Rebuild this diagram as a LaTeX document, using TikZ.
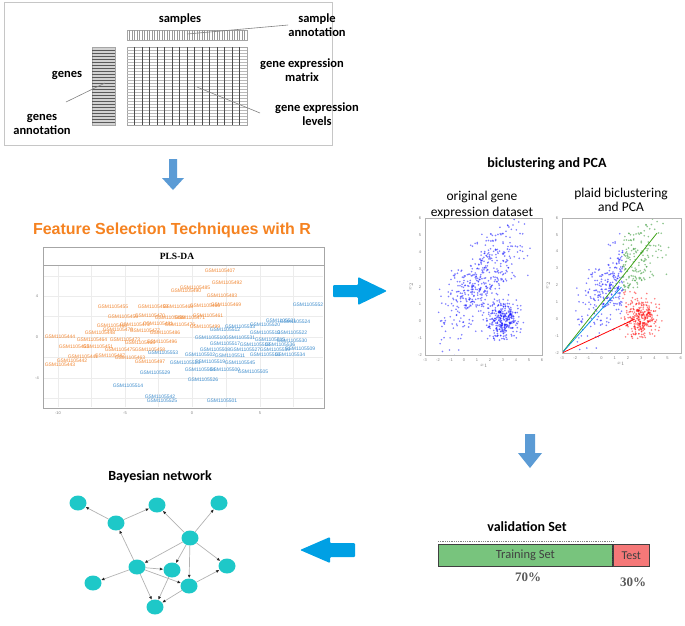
\documentclass[tikz,border=0pt]{standalone}
\usepackage{fontspec}
\setmainfont{Carlito}
\newfontfamily\arialfont{Liberation Sans}
\newfontfamily\timesfont{Liberation Serif}
\usetikzlibrary{positioning, arrows.meta, shapes.geometric}

\definecolor{arrowblue}{RGB}{91,155,213}
\definecolor{brightblue}{RGB}{0,160,228}
\definecolor{titleorange}{RGB}{245,130,32}
\definecolor{plsorange}{RGB}{242,135,50}
\definecolor{plsblue}{RGB}{60,140,205}
\definecolor{trainfill}{RGB}{120,196,125}
\definecolor{testfill}{RGB}{245,120,120}
\definecolor{bnnode}{RGB}{30,200,200}
\definecolor{ptgreen}{RGB}{30,140,30}

\begin{document}
\begin{tikzpicture}[x=1pt,y=-1pt]
	% Setup the styles for the texts and nodes
	\tikzset{lbl/.style={font=\fontsize{12.5}{14}\selectfont\bfseries,
			align=center, inner sep=0pt},
		head lbl/.style={font=\fontsize{14}{16}\selectfont\bfseries, inner sep=0pt},
		sub lbl/.style={font=\fontsize{13.5}{15.5}\selectfont, align=center, inner sep=0pt},
		pls lbl/.style={font=\arialfont\fontsize{5}{5.5}\selectfont, inner sep=0pt},
		tick lbl/.style={font=\arialfont\fontsize{4}{4.5}\selectfont, text=gray, inner sep=0pt},
		pct lbl/.style={font=\timesfont\fontsize{13}{14}\selectfont\bfseries, text=black!65, inner sep=0pt},
		bn node/.style={ellipse, fill=bnnode, minimum width=17pt, minimum height=15pt, inner sep=0pt},
		pointer/.style={gray, line width=0.6pt}}
	
	\useasboundingbox (0,0) rectangle (685,625);
	
	% gene expression data
	\draw[gray!45, line width=1pt] (4,2) rectangle (332,145);
	\draw[gray!70, fill=white] (127,30) rectangle (247,40);
	\foreach \i in {1,...,47}
		\draw[gray!80, line width=0.4pt] ({127+2.5*\i},30) -- ({127+2.5*\i},40);
	\draw[gray!70, fill=gray!35] (92,47) rectangle (115,125);
	\foreach \j in {1,...,25}
		\draw[gray!70!black, line width=0.35pt] (92,{47+3*\j}) -- (115,{47+3*\j});
	\draw[gray!70] (127,47) rectangle (247,125);
	\foreach \j in {1,...,25}
		\draw[gray!55, line width=0.3pt] (127,{47+3*\j}) -- (247,{47+3*\j});
	\foreach \i in {1,...,15}
		\draw[gray!60!black, line width=0.6pt] ({127+7.5*\i},47) -- ({127+7.5*\i},125);
	
	\node[lbl] (samples)    at (180,19)  {samples};
	\node[lbl] (sampann)    at (317,25)  {sample\\annotation};
	\node[lbl] (genematrix) at (302,70)  {gene expression\\matrix};
	\node[lbl] (genelevels) at (317,114) {gene expression\\levels};
	\node[lbl] (genes)      at (67,75)   {genes};
	\node[lbl] (genesann)   at (42,124)  {genes\\annotation};
	
	\coordinate (sampdot)  at (187,34);
	\coordinate (genetail) at (66,102);
	\coordinate (genedot)  at (105,83);
	\coordinate (levtail)  at (260,113);
	\coordinate (levdot)   at (197,87);
	\draw[pointer] (sampann.west) -- (sampdot);
	\draw[pointer] (genetail) -- (genedot);
	\draw[pointer] (levtail) -- (levdot);
	
	\fill[arrowblue] (169,159) -- (177,159) -- (177,178) -- (184,178) -- (173,190)
		-- (162,178) -- (169,178) -- cycle;
	
	% feature selection
	\node[font=\arialfont\fontsize{16}{18}\selectfont\bfseries, text=titleorange,
		inner sep=0pt] (fstitle) at (172,230) {Feature Selection Techniques with R};
	
	\draw[gray!70, line width=0.9pt, fill=white] (43,247) rectangle (324,408);
	\draw[gray!70, line width=0.9pt] (43,265) -- (324,265);
	\node[font=\timesfont\fontsize{9.5}{10}\selectfont\bfseries, inner sep=0pt]
		(plstitle) at (177,256) {PLS-DA};
	\foreach \gx in {58,91,125,158,192,226,260,293}
		\draw[gray!15, line width=0.5pt] (\gx,266) -- (\gx,407);
	\foreach \gy in {276,296,316,337,357,378,398}
		\draw[gray!15, line width=0.5pt] (44,\gy) -- (323,\gy);
	\foreach \gx/\t in {58/-10,125/-5,192/0,260/5}
		\node[tick lbl] (xt\gx) at (\gx,413) {\t};
	\foreach \gy/\t in {296/4,337/0,378/-4}
		\node[tick lbl] (yt\gy) at (37,\gy) {\t};
	
	\foreach \lx/\ly/\n in {220/271/407, 227/283/492, 195/288/485, 186/291/490,
		222/296/483, 113/307/455, 153/307/459, 178/307/468, 205/306/466, 226/305/469,
		123/317/456, 150/316/470, 170/318/488, 190/318/471, 208/316/461, 112/326/460,
		135/325/472, 158/324/481, 180/325/476, 145/331/477, 165/333/486, 100/333/448,
		60/337/444, 92/340/464, 125/340/473, 140/343/465, 162/342/496, 98/347/451,
		74/347/453, 120/350/475, 150/350/458, 83/357/441, 110/356/487, 130/358/463,
		72/361/442, 60/365/443, 150/362/497, 205/327/499, 118/330/479}
		\node[pls lbl, text=plsorange] (o\n) at (\lx,\ly) {GSM1105\n};
	
	\foreach \lx/\ly/\n in {308/305/552, 295/322/524, 265/325/520, 281/321/521,
		240/327/533, 225/330/512, 265/333/513, 292/333/522, 210/338/510, 240/338/531,
		270/340/515, 292/341/530, 225/344/517, 255/345/518, 280/345/536, 215/350/508,
		245/350/527, 275/350/539, 300/349/509, 200/355/502, 230/356/511, 265/355/516,
		290/355/534, 163/353/553, 185/363/523, 210/362/519, 240/363/545, 200/370/504,
		225/370/500, 253/372/505, 155/373/529, 203/380/526, 128/386/514, 160/397/542,
		162/401/525, 222/401/501}
		\node[pls lbl, text=plsblue] (b\n) at (\lx,\ly) {GSM1105\n};
	
	\fill[brightblue, rounded corners=1pt] (333,285) -- (358,285) -- (358,277) -- (387,291)
		-- (358,305) -- (358,297) -- (333,297) -- cycle;
	
	% biclustering and PCA
	\node[head lbl] (bictitle)   at (547,164) {biclustering and PCA};
	\node[sub lbl]  (origtitle)  at (482,205) {original gene\\expression dataset};
	\node[sub lbl, font=\fontsize{13.5}{14}\selectfont] (plaidtitle) at (621,200)
		{plaid biclustering\\and PCA};
	
	\begin{scope}
		\clip (425,218) rectangle (542,355);
		\pgfmathsetseed{7}
		\foreach \k in {1,...,450} {
			\pgfmathsetmacro\u{rand+rand+rand}
			\pgfmathsetmacro\v{rand+rand+rand}
			\pgfmathsetmacro\px{1.4+1.55*\u}
			\pgfmathsetmacro\py{2.3+1.05*\u+1.1*\v}
			\fill[blue, opacity=0.5] ({425+13*(\px+3)},{355-17.1*(\py+2)}) circle (0.9);
		}
		\foreach \k in {1,...,300} {
			\pgfmathsetmacro\px{3+0.6*(rand+rand+rand)}
			\pgfmathsetmacro\py{0.1+0.55*(rand+rand+rand)}
			\fill[blue, opacity=0.5] ({425+13*(\px+3)},{355-17.1*(\py+2)}) circle (0.9);
		}
	\end{scope}
	\begin{scope}
		\clip (562,218) rectangle (681,353);
		\pgfmathsetseed{7}
		\foreach \k in {1,...,450} {
			\pgfmathsetmacro\u{rand+rand+rand}
			\pgfmathsetmacro\v{rand+rand+rand}
			\pgfmathsetmacro\px{1.4+1.55*\u}
			\pgfmathsetmacro\py{2.3+1.05*\u+1.1*\v}
			\pgfmathtruncatemacro\cl{ifthenelse(\px>1.6,ifthenelse(\py>1.7,2,3),1)}
			\ifcase\cl\or\def\ptcol{blue}\or\def\ptcol{ptgreen}\or\def\ptcol{red}\fi
			\fill[\ptcol, opacity=0.5] ({562+13.2*(\px+3)},{353-16.9*(\py+2)}) circle (0.9);
		}
		\foreach \k in {1,...,300} {
			\pgfmathsetmacro\px{3+0.6*(rand+rand+rand)}
			\pgfmathsetmacro\py{0.1+0.55*(rand+rand+rand)}
			\fill[red, opacity=0.5] ({562+13.2*(\px+3)},{353-16.9*(\py+2)}) circle (0.9);
		}
		\coordinate (pcaorig) at (562,353);
		\coordinate (pcagreen) at ({562+13.2*7.2},{353-16.9*7.1});
		\coordinate (pcacyan)  at ({562+13.2*4.5},{353-16.9*3.9});
		\coordinate (pcared)   at ({562+13.2*5.5},{353-16.9*2.0});
		\draw[ptgreen!80!lime, line width=0.8pt] (pcaorig) -- (pcagreen);
		\draw[cyan!80!blue, line width=0.8pt] (pcaorig) -- (pcacyan);
		\draw[red, line width=0.8pt] (pcaorig) -- (pcared);
	\end{scope}
	\draw[gray!60, line width=0.6pt] (425,218) rectangle (542,355);
	\draw[gray!60, line width=0.6pt] (562,218) rectangle (681,353);
	\foreach \t in {-3,...,6} {
		\node[tick lbl] (lx\t) at ({425+13*(\t+3)},360) {\t};
		\node[tick lbl] (rx\t) at ({562+13.2*(\t+3)},358) {\t};
	}
	\foreach \t in {-2,...,6} {
		\node[tick lbl] (ly\t) at (420,{355-17.1*(\t+2)}) {\t};
		\node[tick lbl] (ry\t) at (557,{353-16.9*(\t+2)}) {\t};
	}
	\node[tick lbl] (lxname) at (484,366) {$x_1$};
	\node[tick lbl] (rxname) at (621,364) {$x_1$};
	\node[tick lbl, rotate=90] (lyname) at (411,287) {$x_2$};
	\node[tick lbl, rotate=90] (ryname) at (548,286) {$x_2$};
	
	\fill[arrowblue] (525,434) -- (535,434) -- (535,453) -- (542,453) -- (530,468)
		-- (518,453) -- (525,453) -- cycle;
	
	% validation set
	\node[head lbl] (valtitle) at (527,527) {validation Set};
	\node[draw=black!75, line width=0.8pt, fill=trainfill, minimum width=174pt,
		minimum height=22pt, inner sep=0pt, anchor=north west,
		font=\fontsize{12.5}{14}\selectfont, text=black!75] (train) at (438,544) {Training Set};
	\node[draw=black!75, line width=0.8pt, fill=testfill, minimum width=36pt,
		minimum height=22pt, inner sep=0pt, right=0pt of train,
		font=\fontsize{12}{14}\selectfont, text=black!75] (test) {Test};
	\draw[gray, densely dotted, line width=0.8pt] ([yshift=3pt]train.north west)
		-- ([yshift=3pt]train.north east);
	\draw[black!80, densely dotted, line width=0.8pt] (train.north east) -- (train.south east);
	\node[pct lbl] (pct70) at (528,577) {70\%};
	\node[pct lbl] (pct30) at (633,582) {30\%};
	
	\fill[brightblue, rounded corners=1pt] (300,550) -- (330,537) -- (330,543) -- (355,543)
		-- (355,557) -- (330,557) -- (330,563) -- cycle;
	
	% Bayesian network
	\node[head lbl] (bntitle) at (160,477) {Bayesian network};
	\node[bn node] (b1)  at (78,503)  {};
	\node[bn node] (b2)  at (116,523) {};
	\node[bn node] (b3)  at (157,505) {};
	\node[bn node] (b4)  at (219,503) {};
	\node[bn node] (b5)  at (190,538) {};
	\node[bn node] (b6)  at (137,567) {};
	\node[bn node] (b7)  at (172,570) {};
	\node[bn node] (b8)  at (227,566) {};
	\node[bn node] (b9)  at (93,583)  {};
	\node[bn node] (b10) at (189,586) {};
	\node[bn node] (b11) at (155,607) {};
	
	\draw[>={Latex[length=3.5pt, width=3pt, color=black!85]},
	gray!60, line width=0.7pt]
	(b2)  edge[->] (b1)
	(b2)  edge[->] (b3)
	(b6)  edge[->] (b2)
	(b5)  edge[->] (b3)
	(b5)  edge[->] (b4)
	(b5)  edge[->] (b6)
	(b5)  edge[->] (b7)
	(b5)  edge[->] (b10)
	(b5)  edge[->] (b8)
	(b6)  edge[->] (b9)
	(b6)  edge[->] (b7)
	(b6)  edge[->] (b10)
	(b6)  edge[->] (b11)
	(b7)  edge[->] (b11)
	(b10) edge[->] (b11)
	(b10) edge[->] (b8);
	
\end{tikzpicture}
\end{document}
